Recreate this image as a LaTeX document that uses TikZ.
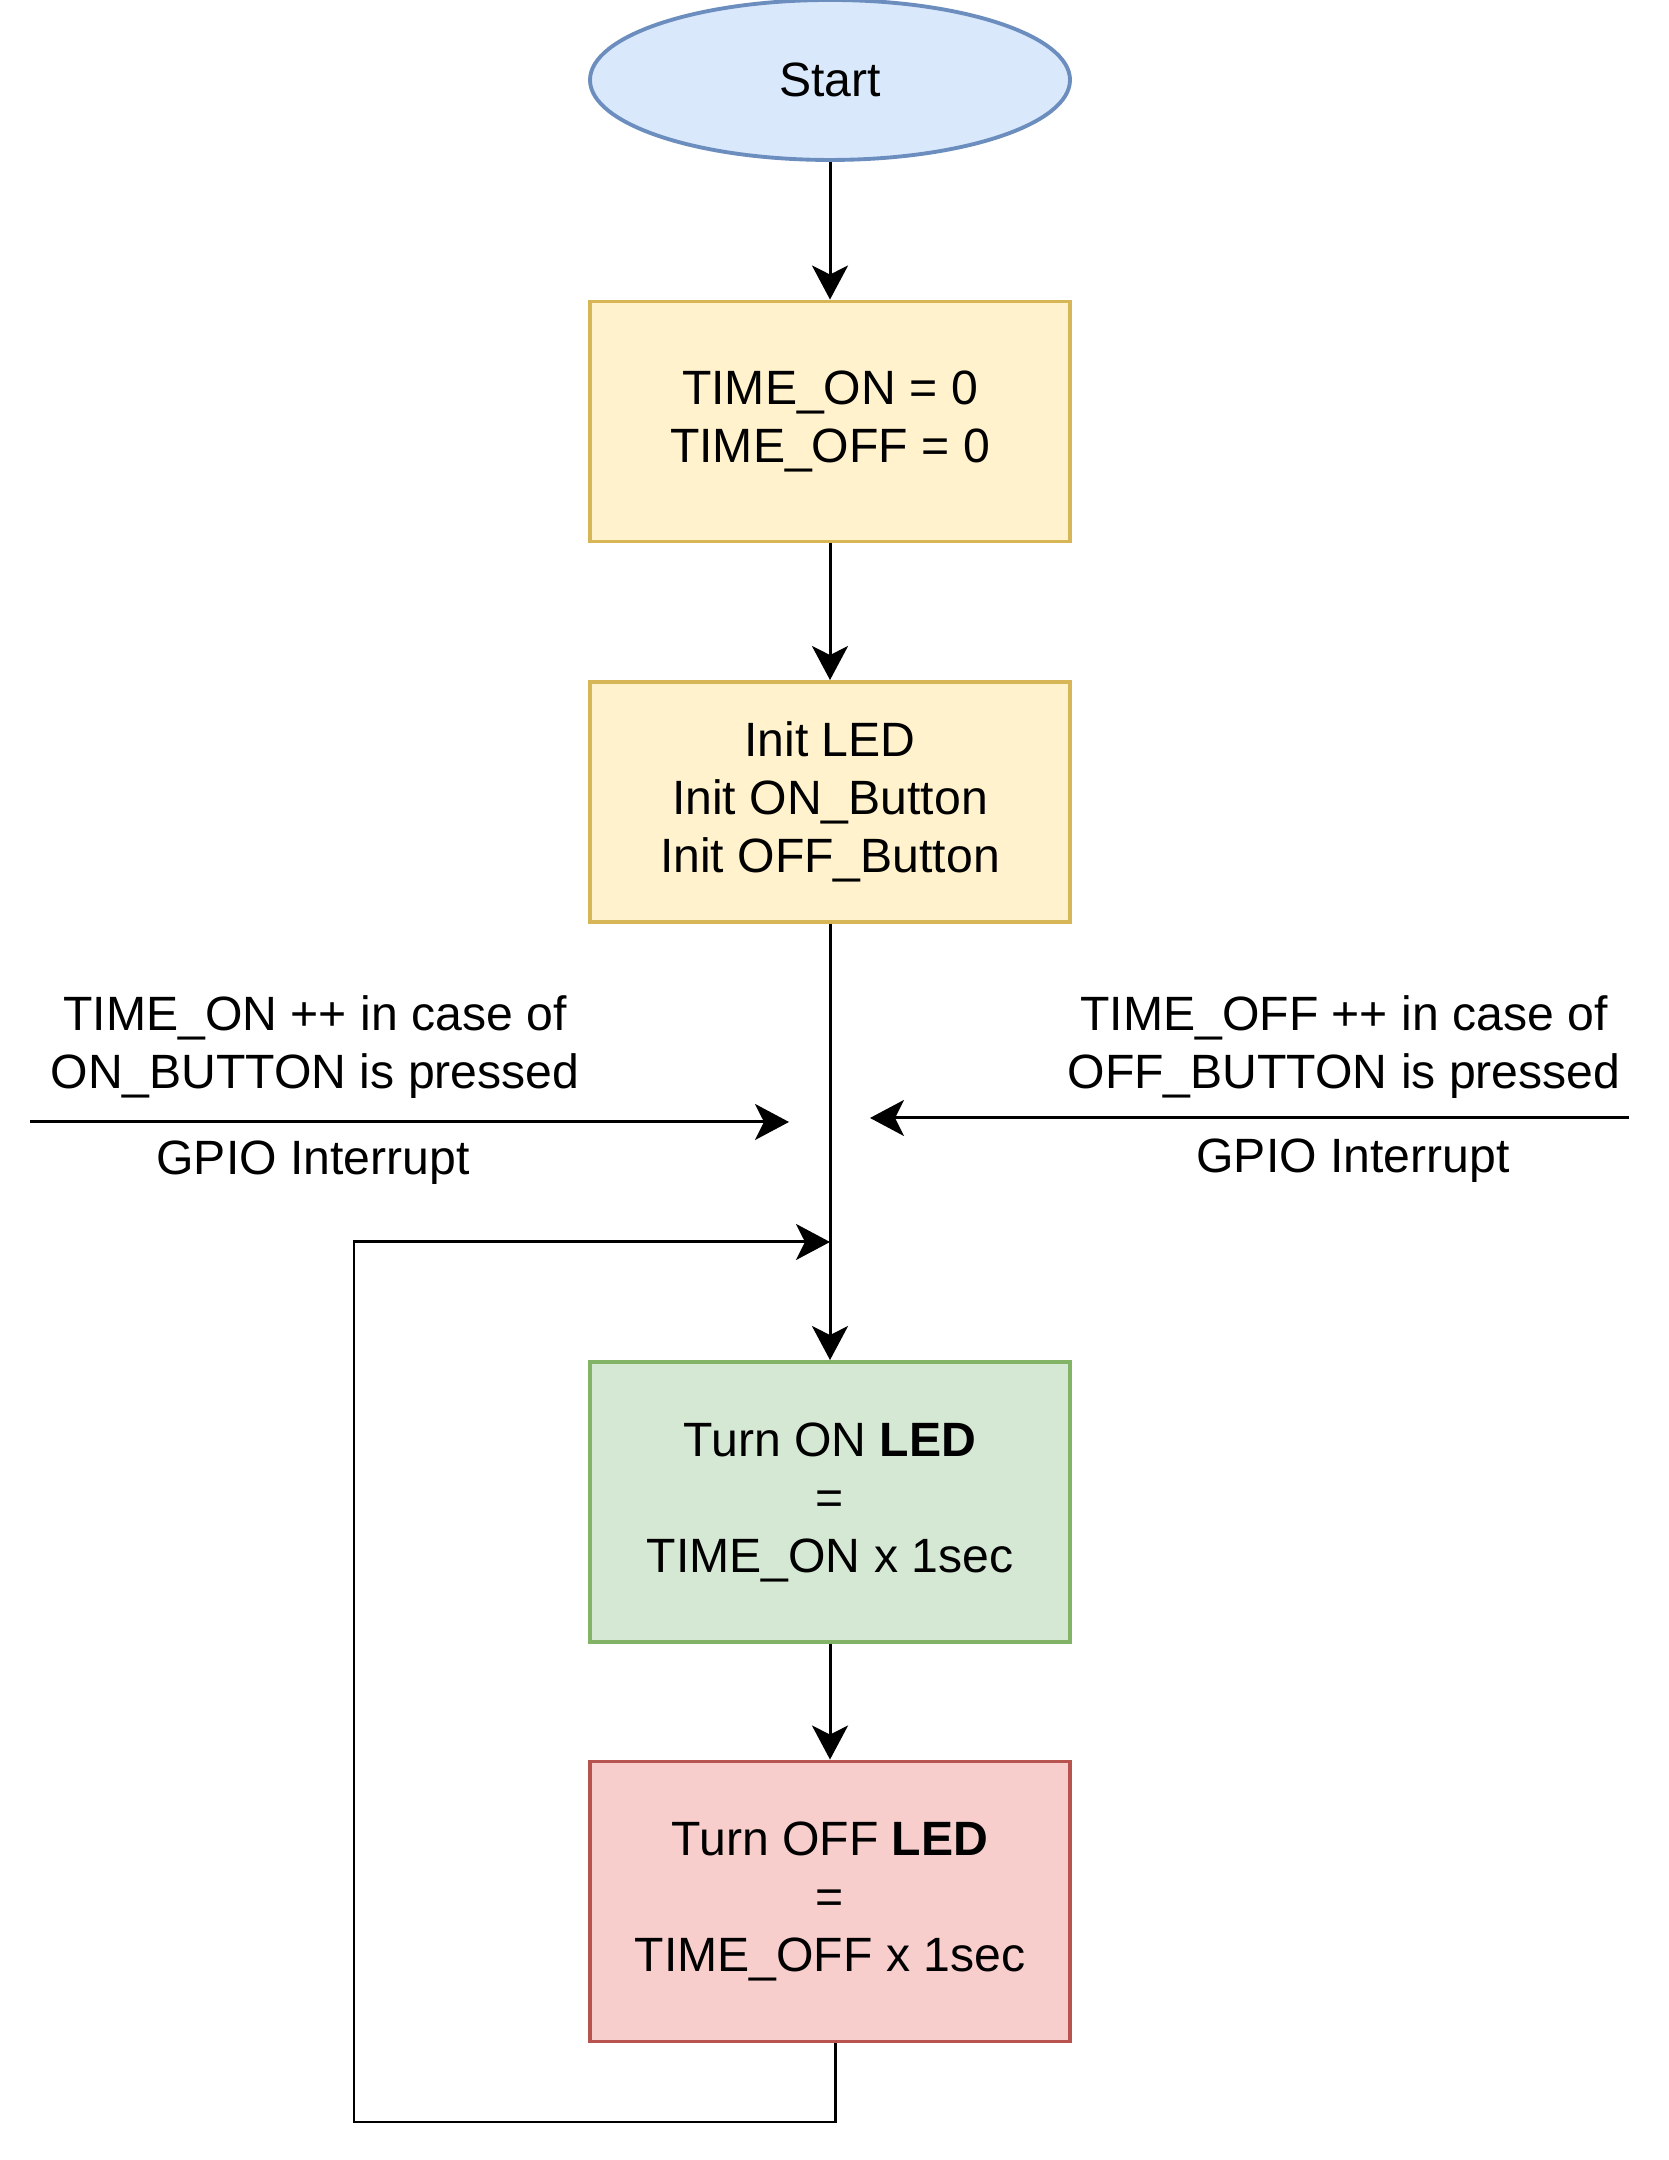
\documentclass[tikz,border=0pt]{standalone}
\usepackage{fontspec}
\setmainfont{Liberation Sans}
\usepackage{tikz}
\usetikzlibrary{shapes.geometric}
\usetikzlibrary{arrows.meta}
\definecolor{startfill}{HTML}{DAE8FC}
\definecolor{startline}{HTML}{6C8EBF}
\definecolor{initfill}{HTML}{FFF2CC}
\definecolor{initline}{HTML}{D6B656}
\definecolor{onfill}{HTML}{D5E8D4}
\definecolor{online}{HTML}{82B366}
\definecolor{offfill}{HTML}{F8CECC}
\definecolor{offline}{HTML}{B85450}

\begin{document}
\begin{tikzpicture}[
	every node/.style={font=\fontsize{13.7}{16.5}\selectfont, align=center},
	flow/.style={line width=0.85pt, -{Stealth[length=0.34cm,width=0.36cm,inset=0.09cm]}},
	block/.style={rectangle, line width=1.1pt, minimum width=4.80cm},
	startblock/.style={ellipse, draw=startline, fill=startfill, line width=1.1pt, minimum width=4.80cm, minimum height=1.6cm, inner sep=0pt},
	initblock/.style={block, draw=initline, fill=initfill, minimum height=2.4cm},
	onblock/.style={block, draw=online, fill=onfill, minimum height=2.8cm},
	offblock/.style={block, draw=offline, fill=offfill, minimum height=2.8cm}]
	\useasboundingbox (0,0) rectangle (16.68,21.6);
	%% main chain
	\node[startblock] (start) at (8.30,20.80) {Start};
	\node[initblock] (vars) at (8.30,17.385) {TIME\_ON = 0\\TIME\_OFF = 0};
	\node[initblock] (init) at (8.30,13.58) {Init LED\\Init ON\_Button\\Init OFF\_Button};
	\node[onblock] (ledon) at (8.30,6.58) {Turn ON \textbf{LED}\\=\\TIME\_ON x 1sec};
	\node[offblock] (ledoff) at (8.30,2.585) {Turn OFF \textbf{LED}\\=\\TIME\_OFF x 1sec};
	\draw[flow] (start) -- (vars);
	\draw[flow] (vars) -- (init);
	\draw[flow] (init) -- (ledon);
	\draw[flow] (ledon) -- (ledoff);
	%% interrupts
	\coordinate (onsrc) at (0.30,10.38);
	\coordinate (onend) at (7.89,10.38);
	\coordinate (offsrc) at (16.29,10.42);
	\coordinate (offend) at (8.70,10.42);
	\draw[flow] (onsrc) -- (onend);
	\draw[flow] (offsrc) -- (offend);
	\node (onlbl) at (3.15,11.13) {TIME\_ON ++ in case of\\ON\_BUTTON is pressed};
	\node[anchor=base] (ongpio) at (3.13,9.85) {GPIO Interrupt};
	\node (offlbl) at (13.44,11.13) {TIME\_OFF ++ in case of\\OFF\_BUTTON is pressed};
	\node[anchor=base] (offgpio) at (13.53,9.87) {GPIO Interrupt};
	%% loop back
	\coordinate (join) at (8.30,9.18);
	\coordinate (loopbl) at (3.54,0.38);
	\draw[flow] ([xshift=0.05cm]ledoff.south) |- (loopbl) |- (join);
\end{tikzpicture}
\end{document}
